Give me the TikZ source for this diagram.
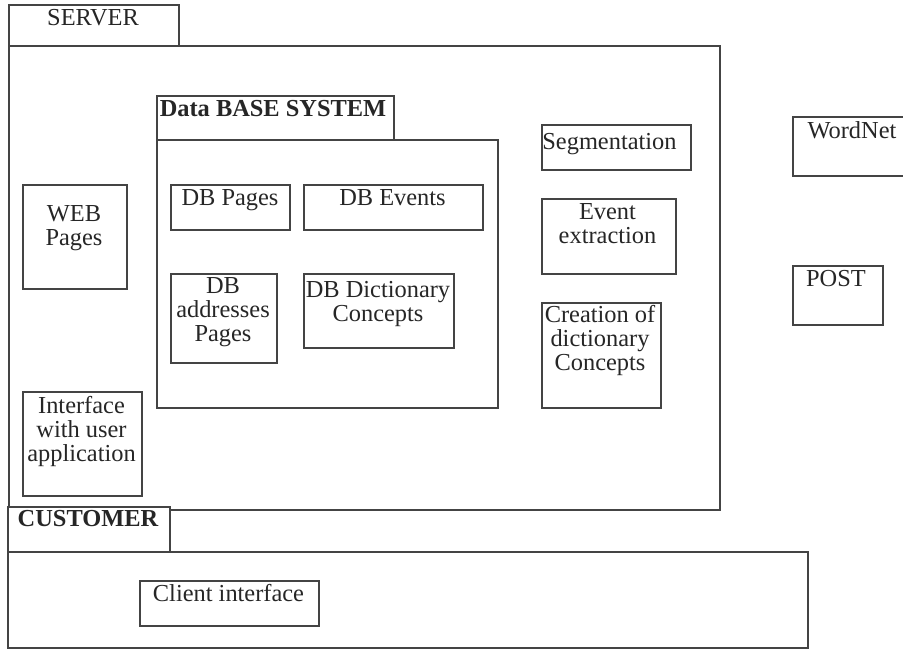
\documentclass[tikz,border=0pt]{standalone}
\usepackage{fontspec}
\setmainfont{Liberation Serif}
\definecolor{linec}{HTML}{444444}
\definecolor{textc}{HTML}{262626}
\begin{document}
\begin{tikzpicture}[x=1pt,y=-1pt,
  box/.style={draw=linec, line width=1.7pt, inner sep=0pt, anchor=north west, fill=white},
  txt/.style={text=textc, inner sep=0pt, anchor=north, align=center,
    font=\fontsize{24.4}{24}\selectfont},
  btxt/.style={txt, font=\fontsize{24.4}{24}\selectfont\bfseries}]
\useasboundingbox (0,0) rectangle (903,649);
% SERVER
\node[box, minimum width=170pt, minimum height=41pt] (servertab) at (8,4) {};
\node[box, minimum width=711pt, minimum height=464pt] (server) at (8,45) {};
\node[txt] (servertxt) at (93,9) {SERVER};
% Data base system
\node[box, minimum width=237pt, minimum height=44pt] (dbtab) at (156,95) {};
\node[box, minimum width=341pt, minimum height=268pt] (db) at (156,139) {};
\node[btxt] (dbtxt) at (273,100) {Data BASE SYSTEM};
\node[box, minimum width=119pt, minimum height=45pt] (dbpages) at (170,184) {};
\node[txt] (dbpagestxt) at (230,189) {DB Pages};
\node[box, minimum width=179pt, minimum height=45pt] (dbevents) at (303,184) {};
\node[txt] (dbeventstxt) at (392.5,189) {DB Events};
\node[box, minimum width=106pt, minimum height=89pt] (dbaddr) at (170,273) {};
\node[txt] (dbaddrtxt) at (223,277) {DB\\addresses\\Pages};
\node[box, minimum width=150pt, minimum height=74pt] (dbdict) at (303,273) {};
\node[txt] (dbdicttxt) at (378,281) {DB Dictionary\\Concepts};
% left boxes
\node[box, minimum width=104pt, minimum height=104pt] (web) at (22,184) {};
\node[txt] (webtxt) at (74,205) {WEB\\Pages};
\node[box, minimum width=119pt, minimum height=104pt] (iface) at (22,391) {};
\node[txt] (ifacetxt) at (81.5,396) {Interface\\with user\\application};
% right boxes in server
\node[box, minimum width=149pt, minimum height=45pt] (seg) at (541,124) {};
\node[txt] (segtxt) at (609.5,133) {Segmentation};
\node[box, minimum width=134pt, minimum height=75pt] (evx) at (541,198) {};
\node[txt] (evxtxt) at (607.5,203) {Event\\extraction};
\node[box, minimum width=119pt, minimum height=105pt] (creat) at (541,302) {};
\node[txt] (creattxt) at (600,305) {Creation of\\dictionary\\Concepts};
% outside
\node[box, minimum width=120pt, minimum height=59pt] (wordnet) at (792,116) {};
\node[txt] (wordnettxt) at (852,121) {WordNet};
\node[box, minimum width=90pt, minimum height=59pt] (post) at (792,265) {};
\node[txt] (posttxt) at (836,270) {POST};
% CUSTOMER
\node[box, minimum width=162pt, minimum height=45pt] (custtab) at (7,506) {};
\node[box, minimum width=800pt, minimum height=96pt] (cust) at (7,551) {};
\node[btxt] (custtxt) at (88,510) {CUSTOMER};
\node[box, minimum width=179pt, minimum height=45pt] (client) at (139,580) {};
\node[txt] (clienttxt) at (228.5,584) {Client interface};
\end{tikzpicture}
\end{document}
